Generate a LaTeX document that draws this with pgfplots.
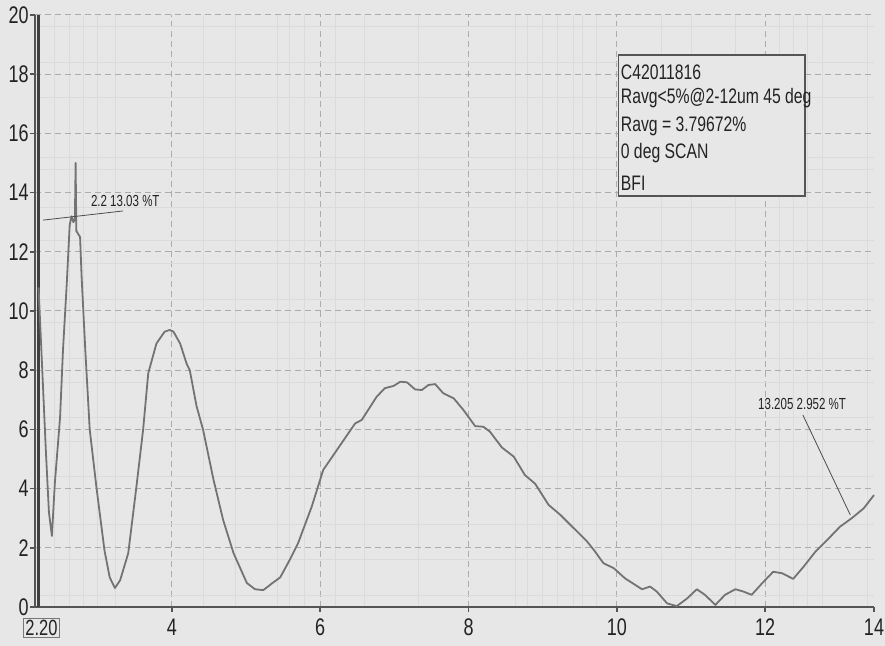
\documentclass[border=0pt]{standalone}
\usepackage{pgfplots}
\pgfplotsset{compat=1.18}
\usepackage{fontspec}
\setmainfont{Liberation Sans}[FakeStretch=0.75]
\newfontfamily\annfont{Liberation Sans}[FakeStretch=0.72]
\definecolor{bg}{RGB}{231,231,231}
\definecolor{curve}{RGB}{115,115,115}
\definecolor{axisc}{RGB}{85,85,85}
\definecolor{txt}{RGB}{35,35,35}

\pgfplotstableread{
x y
2.20 10.8
2.25 8.0
2.30 5.2
2.34 3.2
2.38 2.4
2.42 4.2
2.49 6.4
2.53 8.7
2.58 10.9
2.62 12.9
2.645 13.2
2.67 13.0
2.69 13.1
2.70 15.0
2.71 12.7
2.76 12.5
2.78 11.2
2.83 8.7
2.89 6.0
2.98 4.06
3.09 1.9
3.16 1.0
3.23 0.64
3.30 0.9
3.41 1.82
3.52 4.06
3.61 5.98
3.68 7.9
3.79 8.9
3.90 9.3
3.97 9.36
4.02 9.3
4.11 8.9
4.20 8.2
4.24 8.0
4.33 6.8
4.42 5.98
4.56 4.3
4.69 2.94
4.83 1.82
5.01 0.81
5.12 0.6
5.23 0.57
5.30 0.7
5.35 0.8
5.46 1.0
5.59 1.6
5.70 2.15
5.885 3.39
6.04 4.63
6.27 5.47
6.47 6.2
6.56 6.32
6.76 7.1
6.87 7.39
6.99 7.47
7.08 7.61
7.17 7.59
7.28 7.35
7.37 7.33
7.46 7.5
7.55 7.53
7.66 7.22
7.80 7.05
7.93 6.66
8.09 6.11
8.20 6.09
8.29 5.92
8.45 5.39
8.61 5.08
8.76 4.46
8.90 4.16
9.08 3.45
9.24 3.11
9.42 2.66
9.60 2.21
9.69 1.93
9.82 1.48
9.96 1.31
10.11 0.97
10.34 0.6
10.45 0.69
10.54 0.52
10.68 0.12
10.81 0.03
10.95 0.29
11.08 0.6
11.19 0.41
11.33 0.07
11.46 0.41
11.60 0.6
11.71 0.52
11.82 0.41
11.96 0.8
12.11 1.19
12.23 1.14
12.38 0.95
12.52 1.36
12.68 1.87
12.86 2.32
13.01 2.71
13.17 3.0
13.33 3.33
13.47 3.78
}\spectrum

\begin{document}
\begin{tikzpicture}
\fill[bg] (-17.5pt,-19.5pt) rectangle (425pt,303.5pt);
\begin{axis}[
  scale only axis, width=419.5pt, height=296pt,
  xmin=2.152, xmax=13.47, ymin=0, ymax=20,
  axis x line*=bottom, axis y line*=left,
  axis line style={axisc, line width=1.1pt, -},
  xtick={4,6,8,10,12}, ytick={0,2,...,20},
  extra x ticks={13.47}, extra x tick labels={14},
  extra x tick style={grid=none},
  minor xtick={2.42,2.62,2.80,3.0,3.23,4.42,4.85,5.42,5.59,5.79,6.2,6.6,7.32,8.63,8.79,9.0,9.2,9.41,9.54,9.73,10.6,11.0,11.6,12.2,12.38,12.57,12.78,13.38},
  minor ytick={0.4,1.6,2.8,4.4,5.6,6.4,7.6,8.4,9.6,10.4,11.6,12.4,13.5,14.8,15.2,17.2,18.4,19.6},
  grid=both,
  major grid style={gray!65, densely dashed, line width=0.5pt},
  minor grid style={gray!28, line width=0.4pt},
  tick align=outside, major tick length=2.5pt, minor tick length=0pt,
  tick style={axisc, line width=0.8pt},
  /pgf/number format/assume math mode=true,
  tick label style={font=\fontsize{12}{12}\selectfont, text=txt},
  yticklabel style={inner xsep=0.5pt},
  clip=false,
]
\addplot[gray!50!black, line width=1.3pt, forget plot] coordinates {(2.2,0) (2.2,20)};
\addplot[curve, line width=0.9pt, line join=round] table[x=x,y=y] {\spectrum};

% annotations
\draw[gray!60!black, line width=0.4pt] (axis cs:2.26,13.07) -- (axis cs:3.34,13.38);
\node[font=\annfont\fontsize{8}{8}\selectfont, text=txt, inner sep=0pt] at (axis cs:3.37,13.72) {2.2 13.03 \%T};
\draw[gray!60!black, line width=0.4pt] (axis cs:12.51,6.49) -- (axis cs:13.15,3.11);
\node[font=\annfont\fontsize{8}{8}\selectfont, text=txt, inner sep=0pt] at (axis cs:12.5,6.86) {13.205 2.952 \%T};

% info box
\draw[axisc, fill=bg, line width=0.7pt] (axis cs:10.02,18.65) rectangle (axis cs:12.54,13.89);
\begin{scope}[every node/.style={font=\fontsize{10.5}{10.5}\selectfont, text=txt, inner sep=0pt, anchor=west}]
\node at (axis cs:10.05,18.07) {C42011816};
\node at (axis cs:10.05,17.20) {Ravg<5\%@2-12um 45 deg};
\node at (axis cs:10.05,16.25) {Ravg = 3.79672\%};
\node at (axis cs:10.05,15.34) {0 deg SCAN};
\node at (axis cs:10.05,14.32) {BFI};
\end{scope}

\node[font=\fontsize{11}{11}\selectfont, text=txt, draw=axisc!80, line width=0.4pt, inner sep=0.8pt] at ([yshift=-10.5pt]axis cs:2.24,0) {2.20};
\end{axis}
\pgfresetboundingbox
\useasboundingbox (-17.5pt,-19.5pt) rectangle (425pt,303.5pt);
\end{tikzpicture}
\end{document}
